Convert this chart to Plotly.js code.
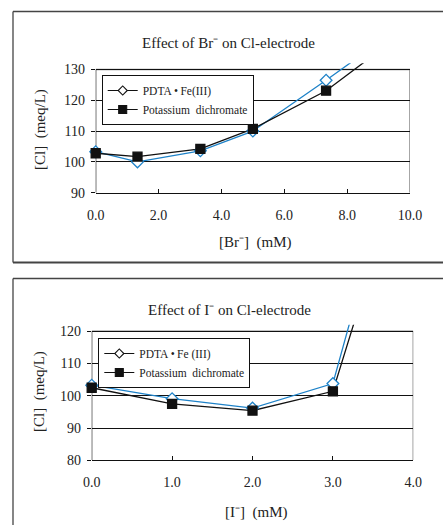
<!DOCTYPE html>
<html>
<head>
<meta charset="utf-8">
<script src="https://cdn.plot.ly/plotly-3.0.1.min.js"></script>
<style>html,body{margin:0;padding:0;background:#fff;}#chart{width:443px;height:525px;}</style>
</head>
<body>
<div id="chart"></div>
<script>
// ---- Data ----
var brX = [0, 1.33, 3.33, 5, 7.33, 10];
var brPDTA = [103.3, 100.0, 103.6, 110.0, 126.5, 146];
var brDichromate = [102.8, 101.7, 104.2, 110.7, 123.1, 143.5];

var iX = [0, 1, 2, 3, 4];
var iPDTA = [103.3, 99.1, 96.2, 103.8, 194];
var iDichromate = [102.5, 97.5, 95.4, 101.4, 182];

var brTicksX = [0, 2, 4, 6, 8, 10];
var brTicksY = [90, 100, 110, 120, 130];
var iTicksX = [0, 1, 2, 3, 4];
var iTicksY = [80, 90, 100, 110, 120];

var seriesNames = ['PDTA\u2009\u2022\u2009Fe(III)', 'Potassium  dichromate'];
var seriesNames2 = ['PDTA\u2009\u2022\u2009Fe (III)', 'Potassium  dichromate'];

var BLUE = '#1e82c8';
var FONT = "'Liberation Serif', 'Times New Roman', serif";

function lineTrace(x, y, xa, ya, color) {
  return {x: x, y: y, xaxis: xa, yaxis: ya, type: 'scatter', mode: 'lines',
    line: {color: color, width: 1.3}, showlegend: false, hoverinfo: 'skip'};
}
// markers for the points that fall inside the visible range (not clipped at the frame)
function markerTrace(x, y, xa, ya, n, sym, fill, color) {
  return {x: x.slice(0, n), y: y.slice(0, n), xaxis: xa, yaxis: ya, type: 'scatter', mode: 'markers',
    cliponaxis: false,
    marker: {symbol: sym, size: 9, color: fill, line: {color: color, width: 1.3}},
    showlegend: false, hoverinfo: 'x+y'};
}
function legendTrace(name, sym, fill, xa, ya, leg) {
  return {x: [null], y: [null], xaxis: xa, yaxis: ya, type: 'scatter', mode: 'lines+markers',
    name: name, legend: leg,
    line: {color: '#111', width: 1.2},
    marker: {symbol: sym, size: sym === 'square' ? 8 : 7, color: fill, line: {color: '#111', width: 1.1}},
    showlegend: true};
}

var traces = [
  lineTrace(brX, brPDTA, 'x', 'y', BLUE),
  lineTrace(brX, brDichromate, 'x', 'y', '#111'),
  markerTrace(brX, brPDTA, 'x', 'y', 5, 'diamond', '#fff', BLUE),
  markerTrace(brX, brDichromate, 'x', 'y', 5, 'square', '#111', '#111'),
  lineTrace(iX, iPDTA, 'x2', 'y2', BLUE),
  lineTrace(iX, iDichromate, 'x2', 'y2', '#111'),
  markerTrace(iX, iPDTA, 'x2', 'y2', 4, 'diamond', '#fff', BLUE),
  markerTrace(iX, iDichromate, 'x2', 'y2', 4, 'square', '#111', '#111'),
  legendTrace(seriesNames[0], 'diamond', '#fff', 'x', 'y', 'legend'),
  legendTrace(seriesNames[1], 'square', '#111', 'x', 'y', 'legend'),
  legendTrace(seriesNames2[0], 'diamond', '#fff', 'x2', 'y2', 'legend2'),
  legendTrace(seriesNames2[1], 'square', '#111', 'x2', 'y2', 'legend2')
];

var W = 443, H = 525;
function px(x) { return x / W; }
function py(y) { return (H - y) / H; }

function xAxis(range, ticks, domain, anchor) {
  return {domain: domain, range: range, anchor: anchor, tickvals: ticks,
    ticktext: ticks.map(function (v) { return v.toFixed(1); }),
    showgrid: false, zeroline: false, showline: true, linecolor: '#111', linewidth: 1,
    ticks: 'inside', ticklen: 4, tickcolor: '#111', ticklabelstandoff: 9,
    tickfont: {family: FONT, size: 14, color: '#222'}, fixedrange: true};
}
function yAxis(range, ticks, domain, anchor) {
  return {domain: domain, range: range, anchor: anchor, tickvals: ticks,
    showgrid: true, gridcolor: '#111', gridwidth: 1, zeroline: false, showline: false,
    ticks: 'outside', ticklen: 4, tickcolor: '#111', ticklabelstandoff: 3,
    tickfont: {family: FONT, size: 14, color: '#222'}, fixedrange: true};
}

var layout = {
  width: W, height: H, margin: {l: 0, r: 0, t: 0, b: 0},
  paper_bgcolor: '#fff', plot_bgcolor: '#fff',
  font: {family: FONT, color: '#222'},
  xaxis: xAxis([0, 10], brTicksX, [px(95.7), px(410)], 'y'),
  yaxis: yAxis([90, 132], brTicksY, [py(192.7), py(63.3)], 'x'),
  xaxis2: xAxis([0, 4], iTicksX, [px(91.7), px(413.3)], 'y2'),
  yaxis2: yAxis([80, 122], iTicksY, [py(460.3), py(324.85)], 'x2'),
  legend: {x: px(101.7), y: py(75), xanchor: 'left', yanchor: 'top', bgcolor: '#fff',
    bordercolor: '#111', borderwidth: 1, font: {family: FONT, size: 11.5, color: '#222'},
    tracegroupgap: 0, itemwidth: 30},
  legend2: {x: px(98.3), y: py(338), xanchor: 'left', yanchor: 'top', bgcolor: '#fff',
    bordercolor: '#111', borderwidth: 1, font: {family: FONT, size: 11.5, color: '#222'},
    tracegroupgap: 0, itemwidth: 30},
  annotations: [
    {text: 'Effect of Br\u207B on Cl-electrode', xref: 'paper', yref: 'paper',
      x: px(228), y: py(43), xanchor: 'center', yanchor: 'middle', showarrow: false,
      font: {family: FONT, size: 15, color: '#222'}},
    {text: '[Br\u207B]  (mM)', xref: 'paper', yref: 'paper',
      x: px(255), y: py(242), xanchor: 'center', yanchor: 'middle', showarrow: false,
      font: {family: FONT, size: 15, color: '#222'}},
    {text: '[Cl]  (meq/L)', xref: 'paper', yref: 'paper', textangle: -90,
      x: px(40), y: py(130), xanchor: 'center', yanchor: 'middle', showarrow: false,
      font: {family: FONT, size: 15, color: '#222'}},
    {text: 'Effect of I\u207B on Cl-electrode', xref: 'paper', yref: 'paper',
      x: px(229), y: py(310), xanchor: 'center', yanchor: 'middle', showarrow: false,
      font: {family: FONT, size: 15, color: '#222'}},
    {text: '[I\u207B]  (mM)', xref: 'paper', yref: 'paper',
      x: px(256), y: py(512), xanchor: 'center', yanchor: 'middle', showarrow: false,
      font: {family: FONT, size: 15, color: '#222'}},
    {text: '[Cl]  (meq/L)', xref: 'paper', yref: 'paper', textangle: -90,
      x: px(40), y: py(392), xanchor: 'center', yanchor: 'middle', showarrow: false,
      font: {family: FONT, size: 15, color: '#222'}}
  ],
  shapes: [
    // top chart frame
    {type: 'line', xref: 'x', yref: 'y', x0: 0, x1: 10, y0: 130, y1: 130, line: {color: '#888', width: 1.5}, layer: 'below'},
    {type: 'line', xref: 'x', yref: 'y', x0: 10, x1: 10, y0: 90, y1: 130, line: {color: '#888', width: 1.5}, layer: 'below'},
    {type: 'line', xref: 'x', yref: 'y', x0: 0, x1: 0, y0: 90, y1: 130, line: {color: '#111', width: 1.2}, layer: 'below'},
    // bottom chart frame
    {type: 'line', xref: 'x2', yref: 'y2', x0: 0, x1: 4, y0: 120, y1: 120, line: {color: '#888', width: 1.5}, layer: 'below'},
    {type: 'line', xref: 'x2', yref: 'y2', x0: 4, x1: 4, y0: 80, y1: 120, line: {color: '#888', width: 1.5}, layer: 'below'},
    {type: 'line', xref: 'x2', yref: 'y2', x0: 0, x1: 0, y0: 80, y1: 120, line: {color: '#111', width: 1.2}, layer: 'below'},
    // panel borders
    {type: 'line', xref: 'paper', yref: 'paper', x0: px(13), x1: 1, y0: py(11.5), y1: py(11.5), line: {color: '#444', width: 1.5}},
    {type: 'line', xref: 'paper', yref: 'paper', x0: px(13), x1: px(13), y0: py(11.5), y1: py(262.5), line: {color: '#444', width: 1.3}},
    {type: 'line', xref: 'paper', yref: 'paper', x0: px(13), x1: 1, y0: py(262.5), y1: py(262.5), line: {color: '#444', width: 2}},
    {type: 'line', xref: 'paper', yref: 'paper', x0: px(13), x1: 1, y0: py(278.5), y1: py(278.5), line: {color: '#444', width: 1.5}},
    {type: 'line', xref: 'paper', yref: 'paper', x0: px(13), x1: px(13), y0: py(278.5), y1: 0, line: {color: '#444', width: 1.3}}
  ]
};

Plotly.newPlot('chart', traces, layout, {staticPlot: true, displayModeBar: false});
</script>
</body>
</html>
